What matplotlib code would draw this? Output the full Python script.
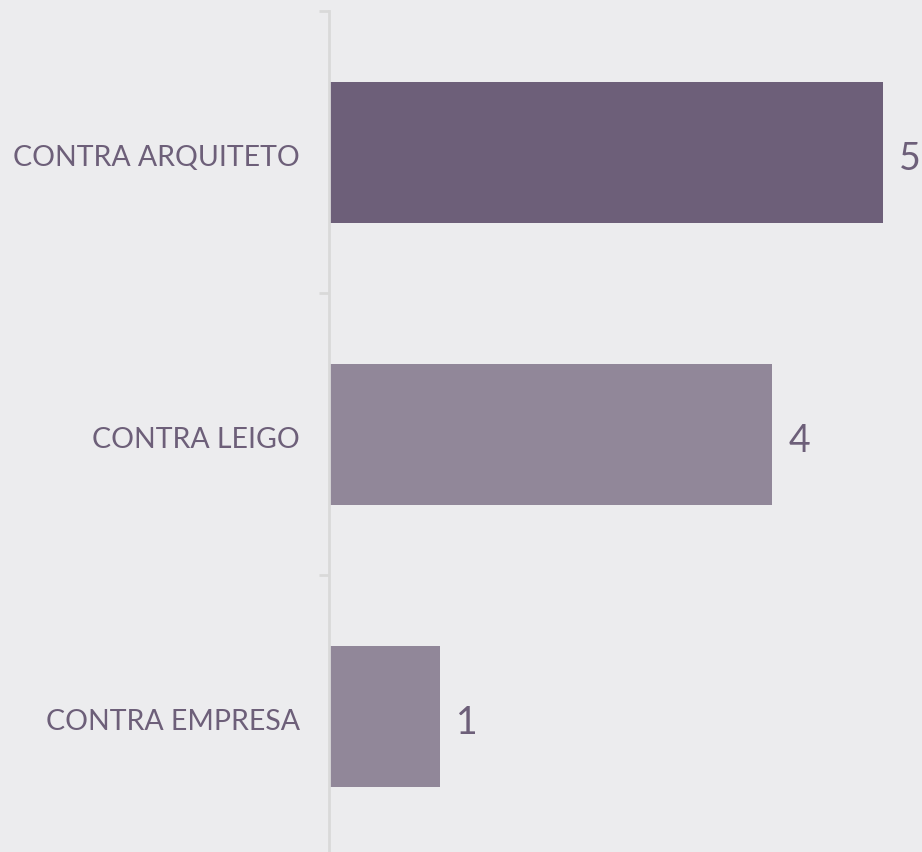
import matplotlib.pyplot as plt
from matplotlib.transforms import ScaledTranslation

categories = ['CONTRA ARQUITETO', 'CONTRA LEIGO', 'CONTRA EMPRESA']
values = [5, 4, 1]
colors = ['#6d5f79', '#918799', '#918799']

bg = '#ececee'
text_color = '#6d5f79'
plt.rcParams['font.family'] = ['Lato', 'DejaVu Sans']

fig = plt.figure(figsize=(9.22, 8.53), dpi=100, facecolor=bg)
ax = fig.add_axes([329 / 922, -5 / 853, (883 - 329) / 922, (853 - 12 + 5) / 853])
ax.set_facecolor(bg)

pos = list(range(len(categories)))
ax.barh(pos, values, height=0.5, color=colors)
ax.set_ylim(len(categories) - 0.5, -0.5)
ax.set_xlim(0, 5)

# category labels on major ticks, band boundaries on minor ticks
ax.set_yticks(pos)
ax.set_yticklabels(categories)
ax.set_yticks([i - 0.5 for i in range(len(categories) + 1)], minor=True)
ax.tick_params(axis='y', which='major', length=0, pad=21, labelsize=20.5, labelcolor=text_color)
ax.tick_params(axis='y', which='minor', length=7, width=2, color='#d9d9d9')
ax.set_xticks([])
shift = ScaledTranslation(0, -3 / 100, fig.dpi_scale_trans)
for lbl in ax.get_yticklabels():
    lbl.set_transform(lbl.get_transform() + shift)

for s in ['top', 'right', 'bottom']:
    ax.spines[s].set_visible(False)
ax.spines['left'].set_color('#d9d9d9')
ax.spines['left'].set_linewidth(2)

for i, v in enumerate(values):
    ax.annotate(str(v), (v, i), xytext=(11.5, -4), textcoords='offset points',
                va='center', ha='left', fontsize=27,
                color=text_color, annotation_clip=False)

fig.savefig('out.png', dpi=100, facecolor=bg)
